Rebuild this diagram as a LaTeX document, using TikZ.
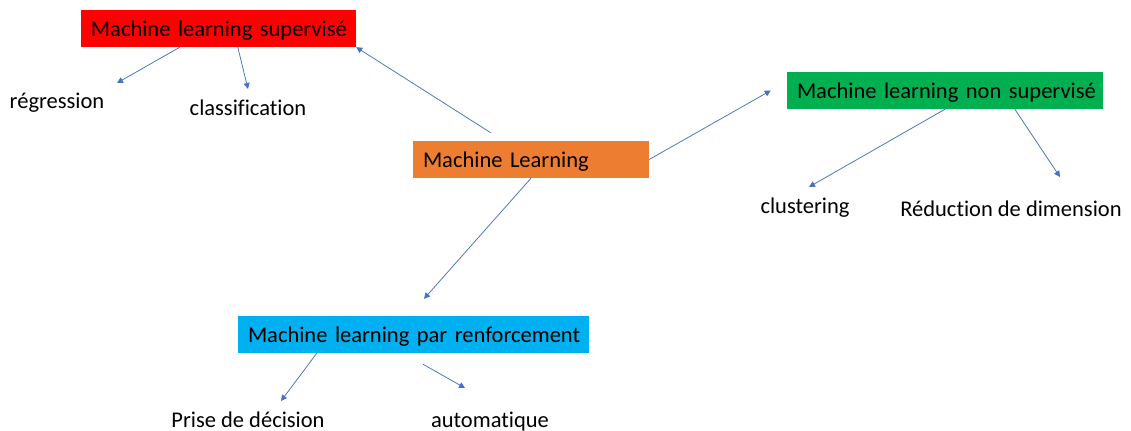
\documentclass[tikz,border=0pt]{standalone}
\usepackage{fontspec}
\setmainfont{Carlito}[Ligatures=CommonOff]
\usetikzlibrary{arrows.meta}
\definecolor{boxred}{RGB}{255,0,0}
\definecolor{boxorange}{RGB}{237,125,49}
\definecolor{boxgreen}{RGB}{0,176,80}
\definecolor{boxblue}{RGB}{0,176,240}
\definecolor{edgecol}{RGB}{68,114,196}
\begin{document}
\begin{tikzpicture}[x=1bp,y=-1bp,>={Triangle[length=6bp,width=6bp]},
  every node/.style={font=\fontsize{22.5bp}{27bp}\selectfont},
  mlbox/.style={rectangle,inner xsep=10bp,minimum height=37bp,text height=18bp,text depth=3bp,align=left},
  leaf/.style={inner sep=0bp,anchor=base},
  edge/.style={->,edgecol,line width=0.75bp}]
  \useasboundingbox (0,0) rectangle (1131,430);
%%
  % Node: sup
  \node[mlbox,fill=boxred,text width=255bp] (sup) at (218.5,28.5) {\mbox{Machine learning supervisé}};
  % Node: ml
  \node[mlbox,fill=boxorange,text width=216bp] (ml) at (531,159.5) {\mbox{Machine Learning}};
  % Node: nonsup
  \node[mlbox,fill=boxgreen,text width=296bp] (nonsup) at (945,90.5) {\mbox{Machine learning non supervisé}};
  % Node: renf
  \node[mlbox,fill=boxblue,text width=331bp] (renf) at (413.5,334.5) {\mbox{Machine learning par renforcement}};
  % Node: leaves
  \node[leaf] (reg) at (57,108) {régression};
  \node[leaf] (cls) at (248,115) {classification};
  \node[leaf] (clu) at (805,213) {clustering};
  \node[leaf] (dim) at (1011,216) {Réduction de dimension};
  \node[leaf] (dec) at (248,427) {Prise de décision};
  \node[leaf] (auto) at (490,427) {automatique};
  % Arrow ends
  \coordinate (regtip) at (117,83);
  \coordinate (clstip) at (248,89);
  \coordinate (clutip) at (809,187);
  \coordinate (dimtip) at (1060,177);
  \coordinate (dectip) at (281,401);
  \coordinate (autotip) at (465,388);
%%
  % Edge: sup -> reg
  \draw[edge] ([xshift=99bp]sup.south west) -- (regtip);
  % Edge: sup -> cls
  \draw[edge] ([xshift=157bp]sup.south west) -- (clstip);
  % Edge: ml -> sup
  \draw[edge] ([xshift=78bp,yshift=8bp]ml.north west) -- (sup.south east);
  % Edge: ml -> nonsup
  \draw[edge] (ml.east) -- ([xshift=-16bp]nonsup.west);
  % Edge: ml -> renf
  \draw[edge] (ml.south) -- ([xshift=10.5bp,yshift=17bp]renf.north);
  % Edge: nonsup -> clu
  \draw[edge] (nonsup.south) -- (clutip);
  % Edge: nonsup -> dim
  \draw[edge] ([xshift=228bp]nonsup.south west) -- (dimtip);
  % Edge: renf -> dec
  \draw[edge] ([xshift=79bp]renf.south west) -- (dectip);
  % Edge: renf -> auto
  \draw[edge] ([xshift=9.5bp,yshift=-11bp]renf.south) -- (autotip);
%
\end{tikzpicture}
\end{document}
